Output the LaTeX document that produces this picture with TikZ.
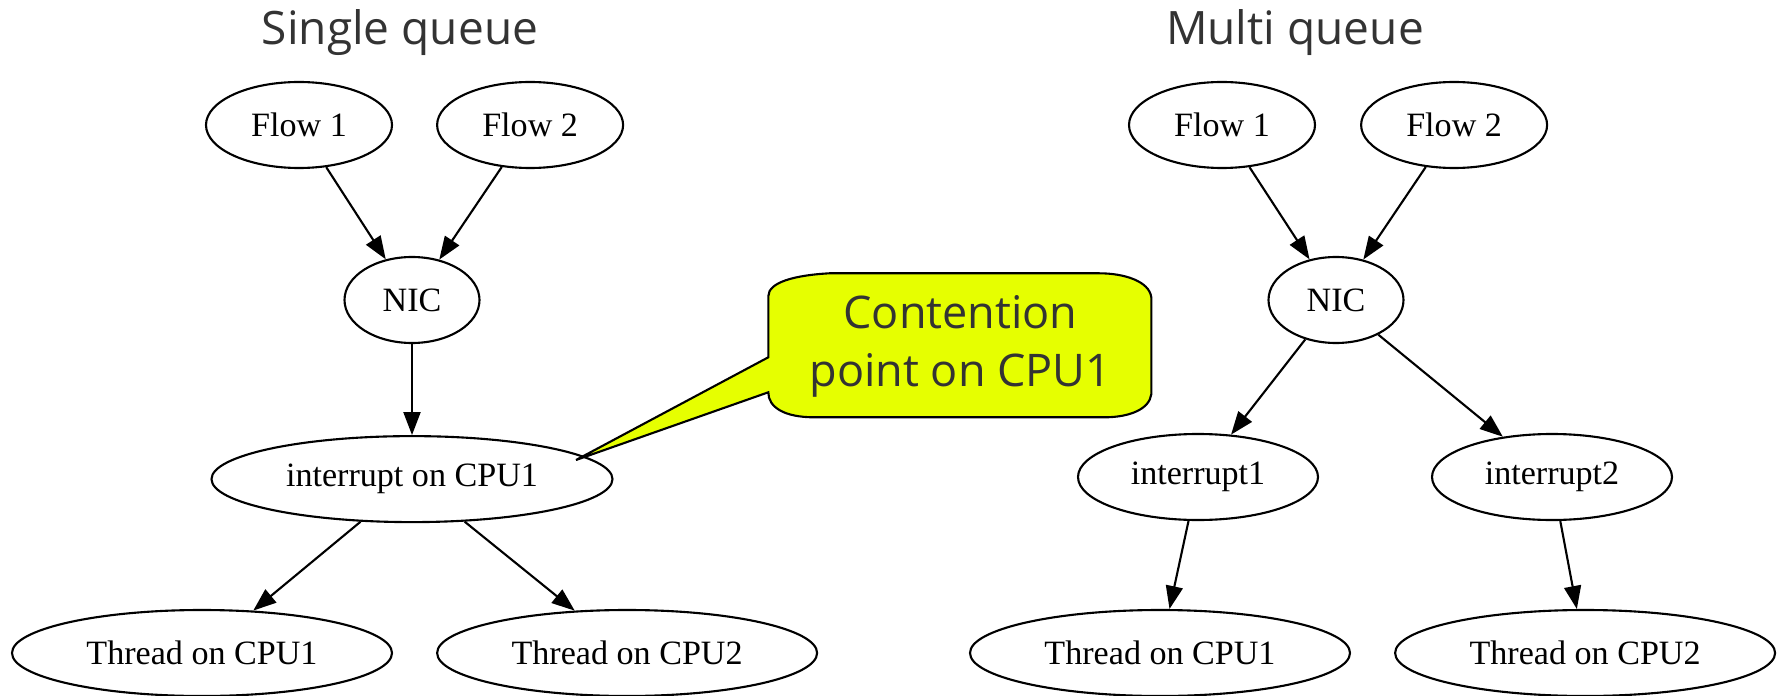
\documentclass[tikz,border=0pt]{standalone}
\usepackage{fontspec}
\setmainfont{Liberation Serif}
\newfontfamily\graphfont{Liberation Serif}
\newfontfamily\slidefont{Open Sans}
\usetikzlibrary{arrows.meta, positioning, calc, shapes.geometric}
\definecolor{Cnote}{RGB}{230,255,0}
\definecolor{Ctext}{RGB}{51,51,51}
\tikzset{
  gnode/.style={draw, ellipse, line width=0.6pt, inner sep=0pt,
    minimum height=0.86cm, font=\graphfont\fontsize{9.7}{11}\selectfont},
  flowbox/.style={gnode, minimum width=1.86cm},
  nicbox/.style={gnode, minimum width=1.35cm},
  irqbox/.style={gnode, minimum width=2.40cm},
  threadbox/.style={gnode, minimum width=3.80cm},
  titletext/.style={anchor=base, text=Ctext,
    font=\slidefont\fontsize{13.1}{15}\selectfont},
  notetext/.style={align=center, text=Ctext, inner sep=0pt,
    minimum width=3.83cm, minimum height=1.44cm,
    font=\slidefont\fontsize{12.8}{16.5}\selectfont},
  notefill/.style={draw, fill=Cnote, line width=0.6pt},
  arr/.style={-{Triangle[length=0.23cm, width=0.17cm]}, line width=0.6pt},
}

\begin{document}
\begin{tikzpicture}
\useasboundingbox (0,0) rectangle (17.81,-6.96);

%% titles
\node[titletext] (ltitle) at (4.00,-0.45) {Single queue};
\node[titletext] (rtitle) at (12.95,-0.45) {Multi queue};

%% left graph -- single queue
\node[flowbox] (lflow1) at (2.99,-1.25) {Flow 1};
\node[flowbox, right=0.43cm of lflow1] (lflow2) {Flow 2};
\node[nicbox] (lnic) at (4.12,-3.00) {NIC};
\node[irqbox, minimum width=4.01cm, below=0.91cm of lnic] (lirq) {interrupt on CPU1};
\node[threadbox] (lthr1) at (2.02,-6.53) {Thread on CPU1};
\node[threadbox, right=0.43cm of lthr1] (lthr2) {Thread on CPU2};

%% right graph -- multi queue
\node[flowbox] (rflow1) at (12.22,-1.25) {Flow 1};
\node[flowbox, right=0.44cm of rflow1] (rflow2) {Flow 2};
\node[nicbox] (rnic) at (13.36,-3.00) {NIC};
\node[irqbox] (rirq1) at (11.98,-4.77) {interrupt1};
\node[irqbox] (rirq2) at (15.52,-4.77) {interrupt2};
\node[threadbox] (rthr1) at (11.60,-6.53) {Thread on CPU1};
\node[threadbox, right=0.43cm of rthr1] (rthr2) {Thread on CPU2};

%% edges
\draw[arr] (lflow1) -- (lnic);
\draw[arr] (lflow2) -- (lnic);
\draw[arr] (lnic) -- (lirq);
\draw[arr] (lirq) -- (lthr1);
\draw[arr] (lirq) -- (lthr2);

\draw[arr] (rflow1) -- (rnic);
\draw[arr] (rflow2) -- (rnic);
\draw[arr] (rnic) -- (rirq1);
\draw[arr] (rnic) -- (rirq2);
\draw[arr] (rirq1) -- (rthr1);
\draw[arr] (rirq2) -- (rthr2);

%% callout -- wavy bubble round the text, pointing at the interrupt
\coordinate (tip) at (5.76,-4.60);
\path (9.605,-3.46) node[notetext] (note) {};
\begin{scope}[shift={(note.north west)}]
  \draw[notefill] (0,-0.84) -- (0,-0.23)
    .. controls (0,-0.09) and (0.26,-0.02) .. (0.61,0) -- (3.31,0)
    .. controls (3.56,0) and (3.81,-0.08) .. (3.83,-0.24) -- (3.83,-1.21)
    .. controls (3.81,-1.36) and (3.61,-1.44) .. (3.36,-1.44) -- (0.46,-1.44)
    .. controls (0.16,-1.44) and (0,-1.34) .. (0,-1.19) -- (tip) -- cycle;
\end{scope}
\node[notetext] at (note) {Contention\\point on CPU1};

\end{tikzpicture}
\end{document}
